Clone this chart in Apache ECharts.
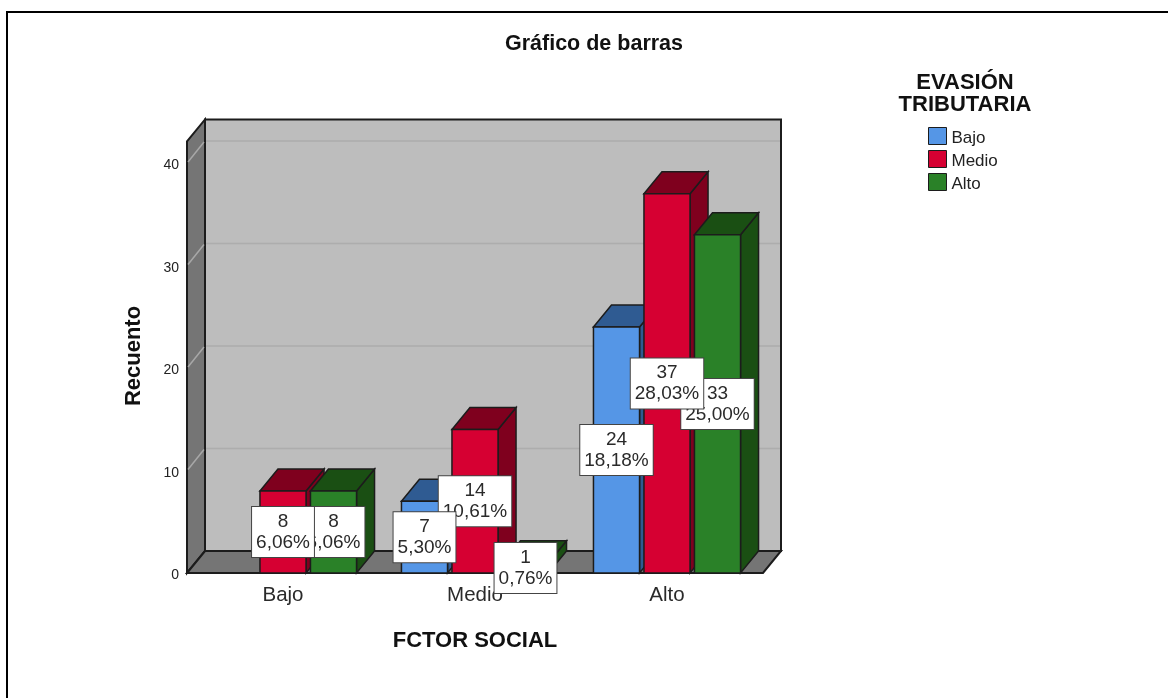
<!DOCTYPE html>
<html>
<head>
<meta charset="utf-8">
<style>
  html, body { margin: 0; padding: 0; background: #fff; }
  #chart { width: 1168px; height: 698px; }
</style>
<script src="https://cdn.jsdelivr.net/npm/echarts@6/dist/echarts.min.js"></script>
</head>
<body>
<div id="chart"></div>
<script>
(function () {
  'use strict';

  var categories = ['Bajo', 'Medio', 'Alto'];
  var yTicks = [0, 10, 20, 30, 40];
  var wallTopValue = 42.1;

  var bajoValues = [0, 7, 24];
  var medioValues = [8, 14, 37];
  var altoValues = [8, 1, 33];

  var bajoPercents = ['', '5,30%', '18,18%'];
  var medioPercents = ['6,06%', '10,61%', '28,03%'];
  var altoPercents = ['6,06%', '0,76%', '25,00%'];

  var FONT = '"Liberation Sans", Arial, sans-serif';
  var DEPTH_X = 18;
  var DEPTH_Y = 22;
  var LINE = '#1c1c1c';

  function toPoints(values) {
    return values.map(function (v, i) {
      return [i, v];
    });
  }

  function poly(points, fill, stroke, width) {
    return {
      type: 'polygon',
      shape: { points: points },
      style: { fill: fill, stroke: stroke || LINE, lineWidth: width || 1.5 }
    };
  }

  function seg(x1, y1, x2, y2, color, width) {
    return {
      type: 'line',
      shape: { x1: x1, y1: y1, x2: x2, y2: y2 },
      style: { stroke: color, lineWidth: width }
    };
  }

  // back wall, left wall and floor are drawn on the first tick, grid lines on the others
  function renderWalls(params, api) {
    var sys = params.coordSys;
    var left = sys.x;
    var right = sys.x + sys.width;
    var base = api.coord([0, 0])[1];
    var top = api.coord([0, wallTopValue])[1];
    var y = api.coord([0, api.value(1)])[1];
    var children = [];

    if (params.dataIndex === 0) {
      children.push(poly([[left + DEPTH_X, top - DEPTH_Y], [right + DEPTH_X, top - DEPTH_Y], [right + DEPTH_X, base - DEPTH_Y], [left + DEPTH_X, base - DEPTH_Y]], '#bdbdbd', LINE, 2));
      children.push(poly([[left, top], [left + DEPTH_X, top - DEPTH_Y], [left + DEPTH_X, base - DEPTH_Y], [left, base]], '#757575', LINE, 2));
      children.push(poly([[left, base], [left + DEPTH_X, base - DEPTH_Y], [right + DEPTH_X, base - DEPTH_Y], [right, base]], '#757575', LINE, 2));
    } else {
      children.push(seg(left + 1, y - 1, left + DEPTH_X - 1, y - DEPTH_Y + 1, '#a8a8a8', 1.5));
      children.push(seg(left + DEPTH_X + 1, y - DEPTH_Y, right + DEPTH_X - 1, y - DEPTH_Y, '#adadad', 1.5));
    }
    return { type: 'group', children: children };
  }

  function makeBarRenderer(slot, front, side) {
    return function (params, api) {
      var value = api.value(1);
      if (!value) {
        return null;
      }
      var band = api.size([1, 0])[0];
      var width = band * 0.24;
      var p = api.coord([api.value(0), value]);
      var base = api.coord([api.value(0), 0])[1];
      var x0 = p[0] + slot * band * 0.263 - width / 2;
      var x1 = x0 + width;
      var y0 = p[1];
      return {
        type: 'group',
        children: [
          poly([[x1, y0], [x1 + DEPTH_X, y0 - DEPTH_Y], [x1 + DEPTH_X, base - DEPTH_Y], [x1, base]], side),
          poly([[x0, y0], [x0 + DEPTH_X, y0 - DEPTH_Y], [x1 + DEPTH_X, y0 - DEPTH_Y], [x1, y0]], side),
          poly([[x0, y0], [x1, y0], [x1, base], [x0, base]], front)
        ]
      };
    };
  }

  function makeLabelRenderer(slot, percents) {
    return function (params, api) {
      var value = api.value(1);
      if (!value) {
        return null;
      }
      var band = api.size([1, 0])[0];
      var p = api.coord([api.value(0), value / 2]);
      return {
        type: 'text',
        style: {
          x: p[0] + slot * band * 0.263,
          y: p[1],
          text: value + '\n' + percents[params.dataIndex],
          align: 'center',
          verticalAlign: 'middle',
          fill: '#2a2a2a',
          font: '19px ' + FONT,
          lineHeight: 21,
          backgroundColor: '#fff',
          borderColor: '#444',
          borderWidth: 1,
          padding: [4, 4]
        }
      };
    };
  }

  var chart = echarts.init(document.getElementById('chart'));

  chart.setOption({
    animation: false,
    backgroundColor: '#fff',
    title: [
      {
        text: 'Gráfico de barras',
        left: 594,
        top: 33,
        padding: 0,
        textAlign: 'center',
        textStyle: { fontFamily: FONT, fontSize: 21.5, fontWeight: 'bold', color: '#111' }
      },
      {
        text: 'EVASIÓN\nTRIBUTARIA',
        left: 965,
        top: 72,
        padding: 0,
        textAlign: 'center',
        textStyle: { fontFamily: FONT, fontSize: 22, fontWeight: 'bold', color: '#111', lineHeight: 22 }
      }
    ],
    legend: {
      orient: 'vertical',
      left: 928,
      top: 127,
      padding: 0,
      itemWidth: 18,
      itemHeight: 17,
      itemGap: 3,
      icon: 'rect',
      selectedMode: false,
      itemStyle: { borderColor: LINE, borderWidth: 1 },
      formatter: '{t|{name}}',
      textStyle: {
        rich: { t: { fontFamily: FONT, fontSize: 17, color: '#222', padding: [5, 0, 0, 0] } }
      },
      data: ['Bajo', 'Medio', 'Alto']
    },
    grid: { left: 187, top: 163, width: 576, height: 410 },
    xAxis: {
      type: 'category',
      data: categories,
      axisLine: { show: false },
      axisTick: { show: false },
      axisLabel: { fontFamily: FONT, fontSize: 20.5, color: '#2a2a2a', margin: 12 },
      name: 'FCTOR SOCIAL',
      nameLocation: 'middle',
      nameGap: 57,
      nameTextStyle: { fontFamily: FONT, fontSize: 22, fontWeight: 'bold', color: '#111' }
    },
    yAxis: {
      type: 'value',
      min: 0,
      max: 40,
      interval: 10,
      splitLine: { show: false },
      axisLine: { show: false },
      axisTick: { show: false },
      axisLabel: {
        margin: 8,
        formatter: '{t|{value}}',
        rich: { t: { fontFamily: FONT, fontSize: 14, color: '#222', padding: [5, 0, 0, 0] } }
      },
      name: 'Recuento',
      nameLocation: 'middle',
      nameRotate: 90,
      nameGap: 42,
      nameTextStyle: { fontFamily: FONT, fontSize: 22, fontWeight: 'bold', color: '#111', padding: [0, 0, 0, 24] }
    },
    graphic: [
      { type: 'rect', shape: { x: 6, y: 11, width: 1162, height: 2 }, style: { fill: '#000' } },
      { type: 'rect', shape: { x: 6, y: 11, width: 2, height: 687 }, style: { fill: '#000' } }
    ],
    series: [
      { type: 'custom', z: 1, silent: true, renderItem: renderWalls, data: toPoints(yTicks) },
      { type: 'custom', name: 'Bajo', z: 2, itemStyle: { color: '#5596e6' }, renderItem: makeBarRenderer(-1, '#5596e6', '#2f5b92'), data: toPoints(bajoValues) },
      { type: 'custom', name: 'Medio', z: 2, itemStyle: { color: '#d60032' }, renderItem: makeBarRenderer(0, '#d60032', '#7f001e'), data: toPoints(medioValues) },
      { type: 'custom', name: 'Alto', z: 2, itemStyle: { color: '#2a8128' }, renderItem: makeBarRenderer(1, '#2a8128', '#1a4f13'), data: toPoints(altoValues) },
      { type: 'custom', z: 3, renderItem: makeLabelRenderer(1, altoPercents), data: toPoints(altoValues) },
      { type: 'custom', z: 4, renderItem: makeLabelRenderer(0, medioPercents), data: toPoints(medioValues) },
      { type: 'custom', z: 5, renderItem: makeLabelRenderer(-1, bajoPercents), data: toPoints(bajoValues) }
    ]
  });
})();
</script>
</body>
</html>
